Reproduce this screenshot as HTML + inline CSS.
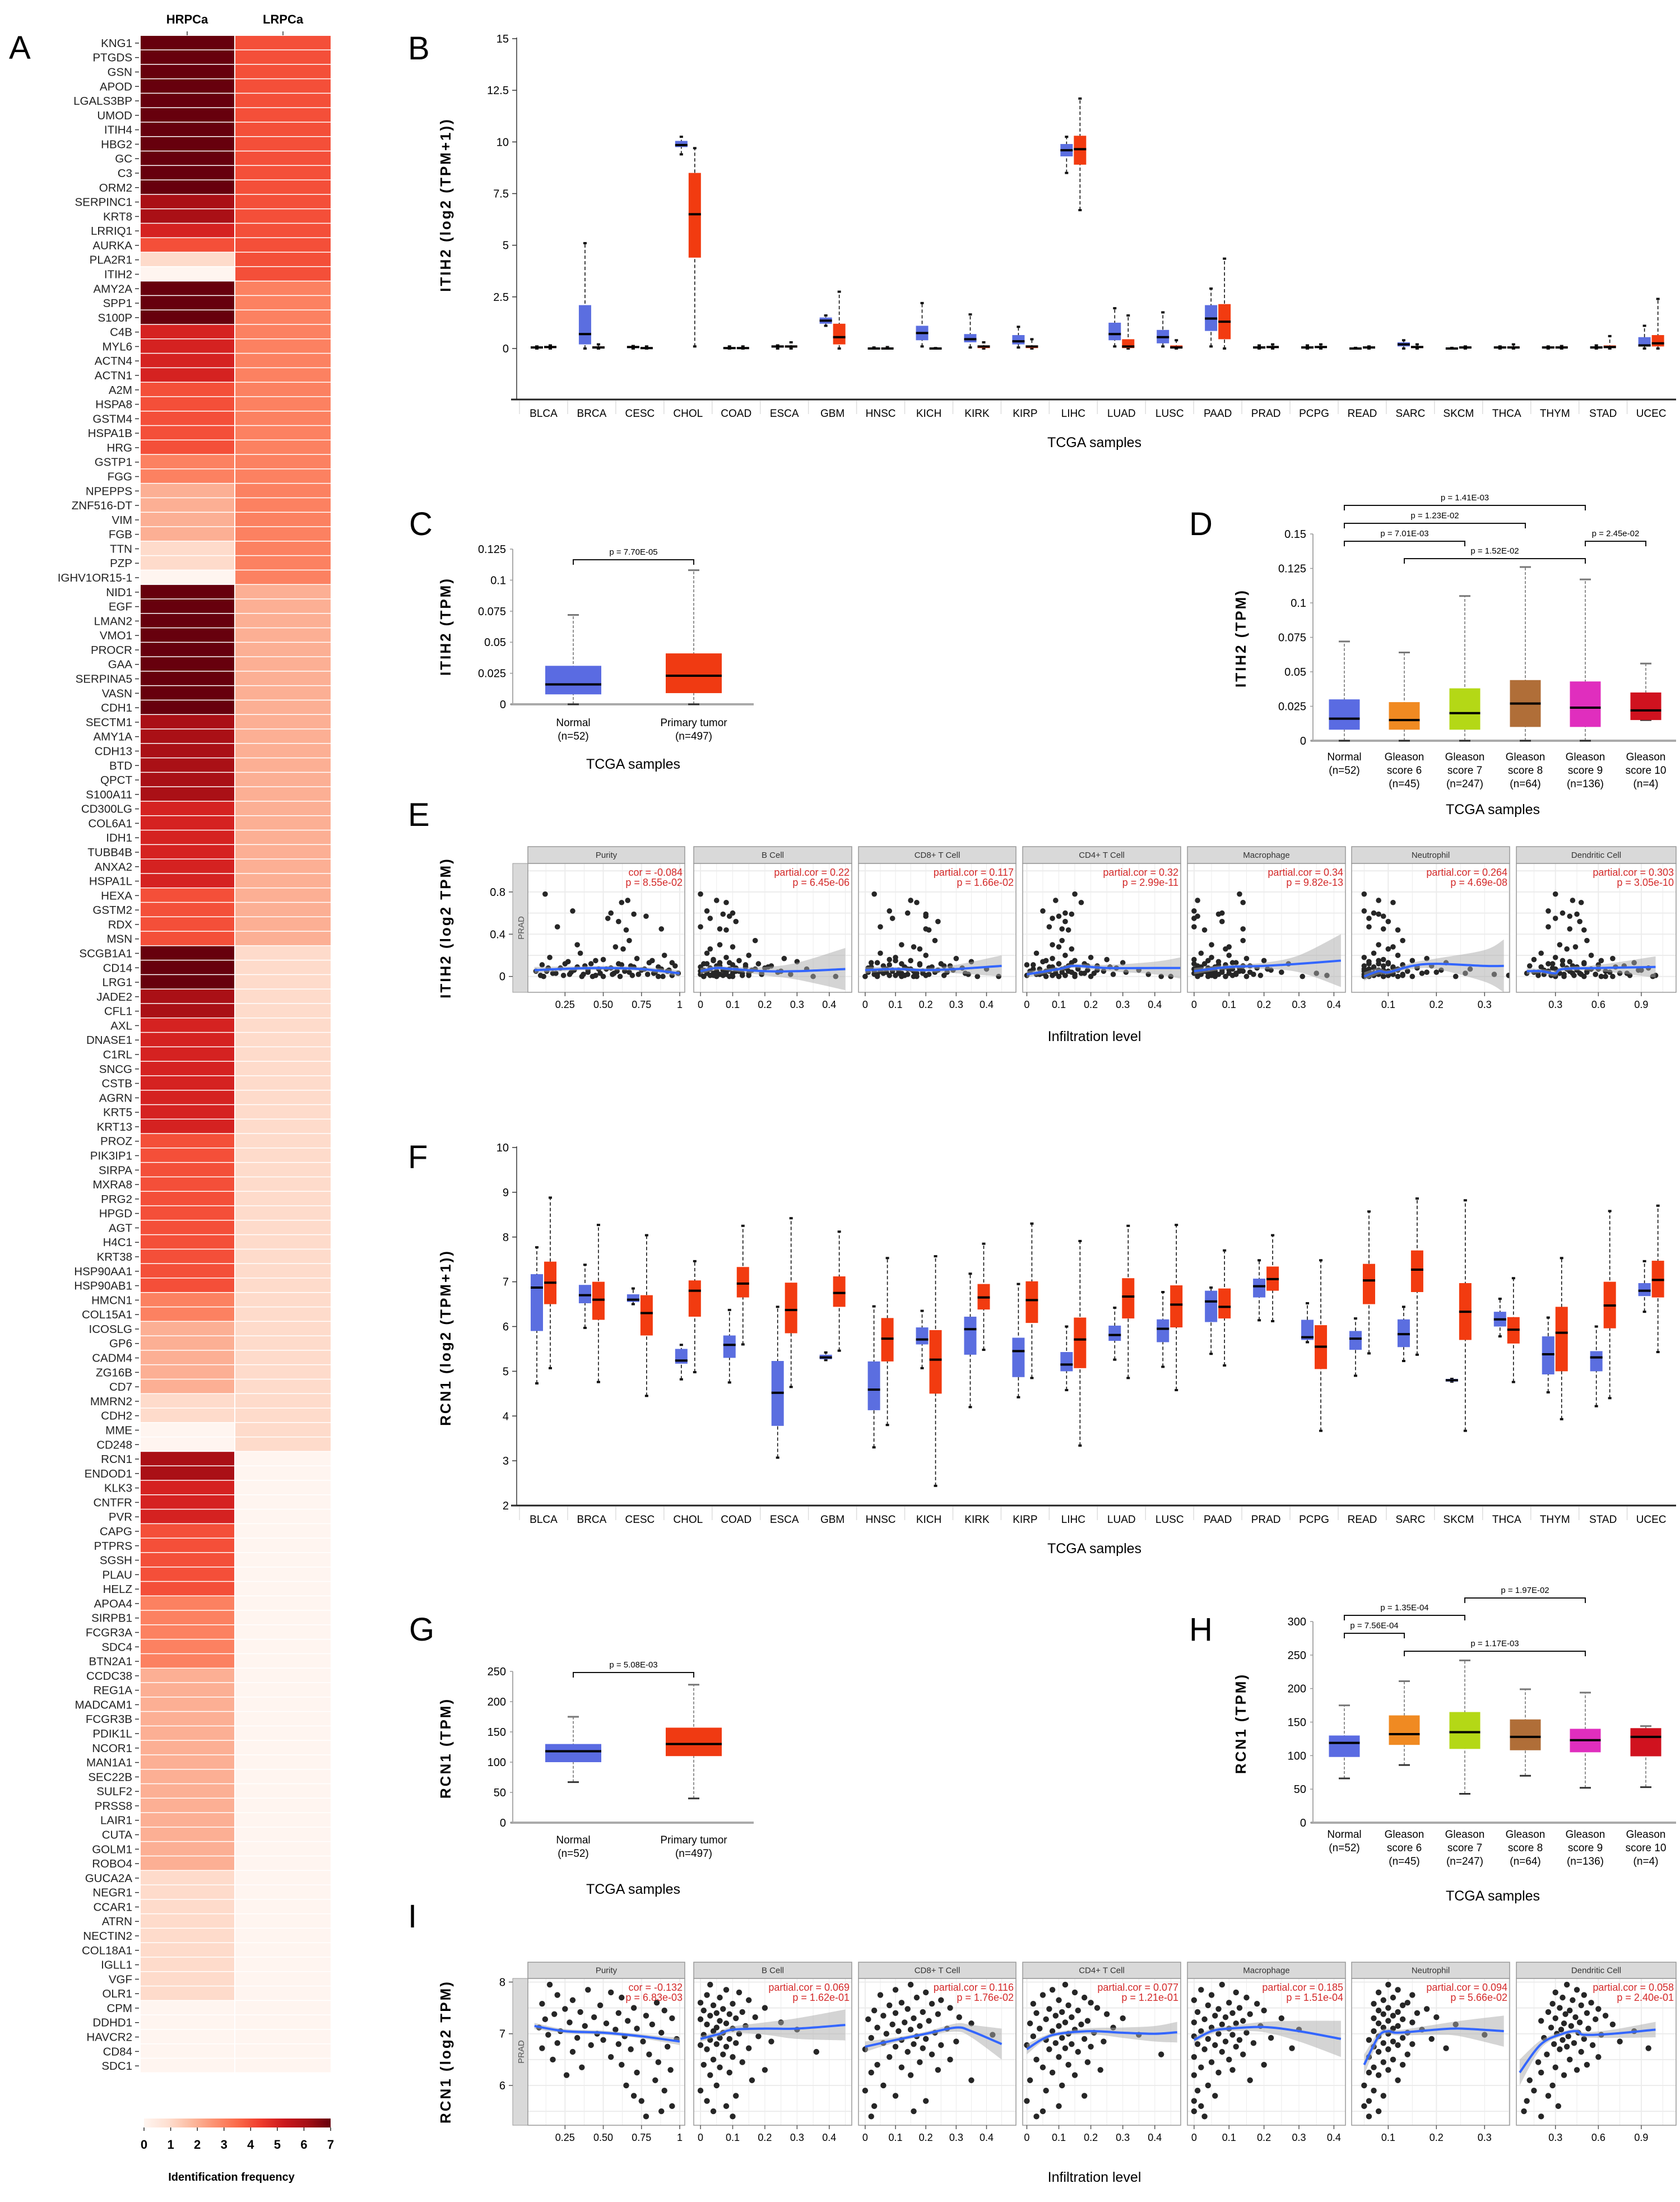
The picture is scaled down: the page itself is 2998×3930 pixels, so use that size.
<!DOCTYPE html>
<html><head><meta charset="utf-8"><title>ITIH2 / RCN1 figure</title>
<style>html,body{margin:0;padding:0;background:#fff}svg{display:block}text{font-family:"Liberation Sans",Arial,sans-serif}</style>
</head><body>
<svg id="fig" xmlns="http://www.w3.org/2000/svg" width="2998" height="3930" viewBox="0 0 2998 3930">
<defs>
<linearGradient id="redsgrad" x1="0" x2="1" y1="0" y2="0">
<stop offset="0" stop-color="#fff5f0"/><stop offset="0.125" stop-color="#fee0d2"/><stop offset="0.25" stop-color="#fcbba1"/><stop offset="0.375" stop-color="#fc9272"/><stop offset="0.5" stop-color="#fb6a4a"/><stop offset="0.625" stop-color="#ef3b2c"/><stop offset="0.75" stop-color="#cb181d"/><stop offset="0.875" stop-color="#a50f15"/><stop offset="1" stop-color="#67000d"/>
</linearGradient>
</defs>
</svg>
<script>
// ---------------- DATA ----------------
const genes = ["KNG1","PTGDS","GSN","APOD","LGALS3BP","UMOD","ITIH4","HBG2","GC","C3","ORM2","SERPINC1","KRT8","LRRIQ1","AURKA","PLA2R1","ITIH2",
"AMY2A","SPP1","S100P","C4B","MYL6","ACTN4","ACTN1","A2M","HSPA8","GSTM4","HSPA1B","HRG","GSTP1","FGG","NPEPPS","ZNF516-DT","VIM","FGB","TTN","PZP","IGHV1OR15-1",
"NID1","EGF","LMAN2","VMO1","PROCR","GAA","SERPINA5","VASN","CDH1","SECTM1","AMY1A","CDH13","BTD","QPCT","S100A11","CD300LG","COL6A1","IDH1","TUBB4B","ANXA2","HSPA1L","HEXA","GSTM2","RDX","MSN",
"SCGB1A1","CD14","LRG1","JADE2","CFL1","AXL","DNASE1","C1RL","SNCG","CSTB","AGRN","KRT5","KRT13","PROZ","PIK3IP1","SIRPA","MXRA8","PRG2","HPGD","AGT","H4C1","KRT38","HSP90AA1","HSP90AB1","HMCN1","COL15A1","ICOSLG","GP6","CADM4","ZG16B","CD7","MMRN2","CDH2","MME","CD248",
"RCN1","ENDOD1","KLK3","CNTFR","PVR","CAPG","PTPRS","SGSH","PLAU","HELZ","APOA4","SIRPB1","FCGR3A","SDC4","BTN2A1","CCDC38","REG1A","MADCAM1","FCGR3B","PDIK1L","NCOR1","MAN1A1","SEC22B","SULF2","PRSS8","LAIR1","CUTA","GOLM1","ROBO4","GUCA2A","NEGR1","CCAR1","ATRN","NECTIN2","COL18A1","IGLL1","VGF","OLR1","CPM","DDHD1","HAVCR2","CD84","SDC1"];
const hrFreq = [7,7,7,7,7,7,7,7,7,7,7,6,6,5,4,1,0,
7,7,7,5,5,5,5,4,4,4,4,4,3,3,2,2,2,2,1,1,0,
7,7,7,7,7,7,7,7,7,6,6,6,6,6,6,5,5,5,5,5,5,4,4,4,4,
7,7,7,6,6,5,5,5,5,5,5,5,5,4,4,4,4,4,4,4,4,4,4,4,3,3,2,2,2,2,2,1,1,0,0,
6,6,5,5,5,4,4,4,4,4,3,3,3,3,3,2,2,2,2,2,2,2,2,2,2,2,2,2,2,1,1,1,1,1,1,1,1,1,0,0,0,0,0];
const lrFreq = [4,4,4,4,4,4,4,4,4,4,4,4,4,4,4,4,4,
3,3,3,3,3,3,3,3,3,3,3,3,3,3,3,3,3,3,3,3,3,
2,2,2,2,2,2,2,2,2,2,2,2,2,2,2,2,2,2,2,2,2,2,2,2,2,
1,1,1,1,1,1,1,1,1,1,1,1,1,1,1,1,1,1,1,1,1,1,1,1,1,1,1,1,1,1,1,1,1,1,1,
0,0,0,0,0,0,0,0,0,0,0,0,0,0,0,0,0,0,0,0,0,0,0,0,0,0,0,0,0,0,0,0,0,0,0,0,0,0,0,0,0,0,0];
const freqTicks = [0,1,2,3,4,5,6,7];

const tcgaCats = ["BLCA","BRCA","CESC","CHOL","COAD","ESCA","GBM","HNSC","KICH","KIRK","KIRP","LIHC","LUAD","LUSC","PAAD","PRAD","PCPG","READ","SARC","SKCM","THCA","THYM","STAD","UCEC"];
// [q1, median, q3, whiskerMin, whiskerMax]
const itih2Normal = [[.02,.05,.08,0,.1],[.2,.7,2.1,0,5.1],[.02,.07,.1,0,.12],[9.75,9.85,10.05,9.4,10.25],[0,.02,.05,0,.1],[.05,.1,.15,0,.15],[1.2,1.35,1.5,1.1,1.6],[0,0,.02,0,.05],[.4,.75,1.1,.1,2.2],[.3,.45,.7,.05,1.65],[.2,.35,.65,.05,1.05],[9.3,9.6,9.9,8.5,10.25],[.4,.7,1.25,.1,1.95],[.25,.55,.9,.1,1.75],[.85,1.45,2.1,.1,2.9],[.02,.05,.1,0,.15],[.02,.05,.1,0,.15],[0,0,.02,0,.03],[.1,.2,.3,0,.4],[0,0,.02,0,.03],[.02,.05,.08,0,.1],[.02,.05,.08,0,.1],[.02,.05,.1,0,.15],[.1,.15,.55,0,1.1]];
const itih2Tumor = [[.02,.07,.1,0,.15],[.02,.05,.1,0,.2],[0,.02,.05,0,.1],[4.4,6.5,8.5,.1,9.7],[0,.02,.05,0,.1],[.05,.1,.15,0,.3],[.2,.55,1.2,0,2.75],[0,0,.05,0,.07],[0,0,.01,0,.02],[.02,.1,.15,0,.3],[.02,.1,.15,0,.45],[8.9,9.65,10.3,6.7,12.1],[.02,.1,.45,0,1.6],[.02,.05,.15,0,.4],[.45,1.3,2.15,0,4.35],[.02,.07,.12,0,.2],[.03,.07,.12,0,.2],[.02,.05,.08,0,.1],[.02,.07,.12,0,.2],[.02,.05,.08,0,.1],[.02,.05,.1,0,.2],[.02,.05,.1,0,.12],[.02,.07,.15,0,.6],[.1,.25,.65,0,2.4]];
const itih2Ticks = [0,2.5,5,7.5,10,12.5,15];
const rcn1Normal = [[5.9,6.87,7.17,4.73,7.77],[6.52,6.7,6.93,5.97,7.38],[6.55,6.6,6.72,6.5,6.85],[5.17,5.24,5.5,4.82,5.59],[5.3,5.59,5.8,4.75,6.37],[3.78,4.52,5.23,3.07,6.44],[5.27,5.31,5.37,5.25,5.42],[4.13,4.59,5.22,3.3,6.45],[5.6,5.71,5.98,5.07,6.35],[5.37,5.94,6.22,4.2,7.18],[4.87,5.45,5.75,4.42,6.95],[5.0,5.15,5.43,4.58,6.0],[5.68,5.81,6.02,5.26,6.42],[5.65,5.95,6.16,5.1,6.77],[6.1,6.56,6.8,5.39,6.87],[6.65,6.9,7.07,6.14,7.48],[5.7,5.76,6.15,5.65,6.52],[5.48,5.73,5.9,4.9,6.18],[5.54,5.83,6.16,5.23,6.44],[4.77,4.8,4.83,4.77,4.83],[6.0,6.16,6.33,5.78,6.62],[4.93,5.38,5.78,4.53,6.2],[5.0,5.31,5.45,4.22,6.0],[6.68,6.8,6.97,6.33,7.46]];
const rcn1Tumor = [[6.5,6.98,7.45,5.07,8.88],[6.15,6.6,7.0,4.76,8.27],[5.8,6.3,6.7,4.45,8.04],[6.22,6.8,7.03,4.98,7.46],[6.65,6.96,7.33,5.6,8.25],[5.85,6.37,6.98,4.65,8.42],[6.44,6.75,7.12,5.46,8.12],[5.22,5.73,6.19,3.8,7.53],[4.5,5.26,5.92,2.44,7.57],[6.38,6.65,6.95,5.48,7.85],[6.08,6.59,7.01,4.85,8.3],[5.07,5.71,6.2,3.34,7.91],[6.18,6.67,7.08,4.85,8.25],[5.98,6.49,6.92,4.58,8.27],[6.18,6.44,6.85,5.13,7.7],[6.8,7.06,7.34,6.12,8.04],[5.05,5.55,6.03,3.67,7.48],[6.5,7.03,7.4,5.4,8.57],[6.77,7.27,7.7,5.37,8.86],[5.7,6.33,6.97,3.67,8.82],[5.62,5.93,6.21,4.76,7.08],[5.0,5.86,6.44,3.93,7.53],[5.96,6.47,7.0,4.4,8.58],[6.65,7.04,7.47,5.43,8.7]];
const rcn1Ticks = [2,3,4,5,6,7,8,9,10];

const twoGroups = [["Normal","(n=52)"],["Primary tumor","(n=497)"]];
const gleasonGroups = [["Normal","(n=52)",""],["Gleason","score 6","(n=45)"],["Gleason","score 7","(n=247)"],["Gleason","score 8","(n=64)"],["Gleason","score 9","(n=136)"],["Gleason","score 10","(n=4)"]];
const itih2TwoStats = [[.008,.016,.031,0,.072],[.009,.023,.041,0,.108]];
const itih2TwoTicks = [0,0.025,0.05,0.075,0.1,0.125];
const itih2GleasonStats = [[.008,.016,.030,0,.072],[.008,.015,.028,0,.064],[.008,.020,.038,0,.105],[.010,.027,.044,0,.126],[.010,.024,.043,0,.117],[.015,.022,.035,.015,.056]];
const itih2GleasonTicks = [0,0.025,0.05,0.075,0.1,0.125,0.15];
const rcn1TwoStats = [[100,118,130,67,175],[110,130,157,40,228]];
const rcn1TwoTicks = [0,50,100,150,200,250];
const rcn1GleasonStats = [[98,119,130,66,175],[116,132,160,86,211],[110,135,165,43,242],[108,128,154,70,199],[105,123,140,52,194],[99,128,141,53,144]];
const rcn1GleasonTicks = [0,50,100,150,200,250,300];

const facetNames = ["Purity","B Cell","CD8+ T Cell","CD4+ T Cell","Macrophage","Neutrophil","Dendritic Cell"];
const facetTickVals = [[0.25,0.5,0.75,1],[0,0.1,0.2,0.3,0.4],[0,0.1,0.2,0.3,0.4],[0,0.1,0.2,0.3,0.4],[0,0.1,0.2,0.3,0.4],[0.1,0.2,0.3],[0.3,0.6,0.9]];
const facetTickLabels = [["0.25","0.50","0.75","1"],["0","0.1","0.2","0.3","0.4"],["0","0.1","0.2","0.3","0.4"],["0","0.1","0.2","0.3","0.4"],["0","0.1","0.2","0.3","0.4"],["0.1","0.2","0.3"],["0.3","0.6","0.9"]];

const itih2CorLabel = ["cor = -0.084","partial.cor = 0.22","partial.cor = 0.117","partial.cor = 0.32","partial.cor = 0.34","partial.cor = 0.264","partial.cor = 0.303"];
const itih2CorP = ["p = 8.55e-02","p = 6.45e-06","p = 1.66e-02","p = 2.99e-11","p = 9.82e-13","p = 4.69e-08","p = 3.05e-10"];
const itih2Expr = [0.78,0.72,0.70,0.62,0.60,0.59,0.57,0.55,0.52,0.47,0.45,0.44,0.34,0.30,0.28,0.26,
0.22,0.2,0.18,0.17,0.16,0.15,0.14,0.13,0.12,0.12,0.11,0.1,0.1,0.09,0.08,0.08,0.07,0.07,0.06,0.06,0.05,0.05,0.04,0.04,0.03,0.03,0.03,0.02,0.02,0.01,0.01,0.0,0.0,0.0,
0.15,0.13,0.12,0.11,0.1,0.09,0.09,0.08,0.07,0.07,0.06,0.06,0.05,0.05,0.05,0.04,0.04,0.03,0.03,0.03,0.02,0.02,0.02,0.01,0.01,0.01,0.0,0.0,0.0,0.0];
const itih2Infil = [
[0.12,0.66,0.62,0.3,0.55,0.7,0.78,0.53,0.6,0.2,0.88,0.65,0.67,0.33,0.58,0.63,0.35,0.9,0.15,0.72,0.5,0.82,0.27,0.95,0.42,0.6,0.1,0.68,0.38,0.86,0.22,0.55,0.77,0.47,0.31,0.93,0.13,0.64,0.4,0.84,0.19,0.57,0.99,0.28,0.73,0.45,0.09,0.61,0.36,0.89,
 0.45,0.8,0.25,0.62,0.97,0.33,0.7,0.14,0.52,0.88,0.4,0.75,0.06,0.59,0.92,0.29,0.67,0.48,0.83,0.17,0.56,0.79,0.37,0.95,0.24,0.69,0.5,0.11,0.86,0.43],
[0,0.05,0.08,0.02,0.1,0.07,0.09,0.03,0.11,0,0.06,0.08,0.17,0.06,0.1,0.03,0.02,0.15,0.08,0.26,0.04,0.12,0.3,0.06,0.18,0.01,0.1,0.22,0.05,0.14,0.03,0.2,0.09,0.33,0.07,0.16,0.0,0.11,0.24,0.05,0.13,0.02,0.19,0.08,0.28,0.04,0.15,0.01,0.42,0.1,
 0.04,0.09,0.02,0.14,0.06,0.21,0.0,0.11,0.03,0.17,0.07,0.01,0.12,0.05,0.25,0.08,0.02,0.15,0.04,0.1,0.0,0.19,0.06,0.03,0.13,0.07,0.01,0.09,0.35,0.05],
[0.03,0.15,0.17,0.08,0.14,0.2,0.2,0.09,0.24,0.05,0.2,0.21,0.23,0.12,0.16,0.18,0.05,0.2,0.1,0.3,0.08,0.15,0.35,0.02,0.25,0.12,0.18,0.28,0.06,0.22,0.01,0.32,0.14,0.4,0.09,0.24,0.03,0.16,0.27,0.07,0.19,0.11,0.33,0.04,0.21,0.13,0.26,0.0,0.37,0.17,
 0.1,0.04,0.18,0.08,0.26,0.13,0.02,0.21,0.07,0.15,0.11,0.29,0.05,0.19,0.09,0.01,0.23,0.12,0.06,0.17,0.34,0.03,0.14,0.08,0.2,0.1,0.44,0.04,0.16,0.12],
[0.15,0.09,0.17,0.05,0.12,0.14,0.1,0.08,0.12,0.07,0.11,0.13,0.11,0.08,0.1,0.14,0.03,0.12,0.2,0.08,0.25,0.15,0.05,0.3,0.1,0.18,0.0,0.22,0.13,0.07,0.28,0.16,0.02,0.11,0.35,0.19,0.06,0.24,0.14,0.01,0.09,0.21,0.17,0.04,0.27,0.12,0.08,0.42,0.15,0.1,
 0.06,0.14,0.1,0.02,0.19,0.08,0.26,0.12,0.04,0.16,0.09,0.22,0.01,0.13,0.07,0.31,0.11,0.05,0.18,0.09,0.03,0.15,0.38,0.08,0.12,0.0,0.2,0.1,0.06,0.45],
[0.13,0.01,0.14,0.0,0.08,0.07,0.01,0.0,0.08,0.0,0.14,0.03,0.14,0.05,0.1,0.09,0.02,0.1,0.05,0.15,0.0,0.2,0.07,0.12,0.03,0.27,0.09,0.01,0.14,0.06,0.18,0.04,0.11,0.0,0.08,0.22,0.03,0.13,0.05,0.16,0.02,0.1,0.35,0.06,0.12,0.01,0.19,0.04,0.09,0.31,
 0.04,0.11,0.0,0.07,0.16,0.02,0.09,0.13,0.05,0.21,0.01,0.1,0.06,0.14,0.03,0.08,0.25,0.0,0.12,0.04,0.17,0.07,0.02,0.11,0.38,0.05,0.09,0.01,0.15,0.06],
[0.05,0.08,0.11,0.05,0.07,0.08,0.09,0.06,0.1,0.06,0.09,0.12,0.13,0.08,0.11,0.1,0.07,0.12,0.05,0.18,0.09,0.15,0.06,0.22,0.1,0.08,0.13,0.05,0.19,0.11,0.07,0.16,0.06,0.27,0.09,0.12,0.05,0.14,0.08,0.2,0.1,0.06,0.17,0.11,0.32,0.07,0.13,0.05,0.24,0.09,
 0.08,0.1,0.06,0.13,0.09,0.07,0.16,0.11,0.05,0.12,0.21,0.08,0.1,0.06,0.14,0.09,0.18,0.07,0.11,0.26,0.08,0.05,0.13,0.1,0.35,0.07,0.09,0.15,0.06,0.12],
[0.3,0.42,0.48,0.25,0.35,0.45,0.4,0.3,0.47,0.25,0.4,0.5,0.52,0.33,0.44,0.38,0.2,0.55,0.3,0.7,0.15,0.62,0.4,0.85,0.25,0.5,0.35,0.78,0.12,0.45,0.95,0.28,0.6,0.38,0.9,0.22,0.52,0.32,0.68,0.18,0.42,0.75,0.1,0.48,0.58,0.27,0.82,0.36,0.65,0.98,
 0.35,0.5,0.28,0.6,0.42,0.2,0.72,0.38,0.55,0.3,0.88,0.45,0.25,0.65,0.4,0.15,0.52,0.33,0.8,0.47,0.22,0.58,0.36,1.0,0.43,0.18,0.62,0.3,0.7,0.5]];
const itih2FitX = [[0.05,0.3,0.5,0.75,1.0],[0,0.05,0.1,0.2,0.3,0.45],[0,0.1,0.2,0.3,0.45],[0,0.1,0.15,0.25,0.4,0.48],[0,0.1,0.2,0.3,0.42],[0.05,0.08,0.1,0.15,0.2,0.3,0.34],[0.1,0.2,0.3,0.35,0.6,1.0]];
const itih2FitY = [[0.06,0.075,0.08,0.07,0.03],[0.05,0.08,0.07,0.05,0.05,0.07],[0.06,0.07,0.06,0.07,0.1],[0.02,0.07,0.1,0.08,0.08,0.08],[0.05,0.09,0.1,0.12,0.15],[0.0,0.05,0.04,0.1,0.12,0.1,0.1],[0.05,0.05,0.03,0.07,0.08,0.09]];
const itih2FitSE = [[0.03,0.02,0.02,0.02,0.03],[0.03,0.02,0.02,0.04,0.08,0.2],[0.03,0.02,0.02,0.04,0.1],[0.03,0.02,0.02,0.03,0.06,0.1],[0.03,0.02,0.03,0.08,0.25],[0.04,0.03,0.02,0.03,0.05,0.15,0.25],[0.03,0.02,0.03,0.02,0.03,0.1]];

const rcn1CorLabel = ["cor = -0.132","partial.cor = 0.069","partial.cor = 0.116","partial.cor = 0.077","partial.cor = 0.185","partial.cor = 0.094","partial.cor = 0.058"];
const rcn1CorP = ["p = 6.83e-03","p = 1.62e-01","p = 1.76e-02","p = 1.21e-01","p = 1.51e-04","p = 5.66e-02","p = 2.40e-01"];
const rcn1Expr = [7.95,7.85,7.8,7.75,7.7,7.65,7.6,7.58,7.55,7.5,7.48,7.45,7.42,7.4,7.38,7.35,7.32,7.3,7.28,7.25,7.22,7.2,7.18,7.15,7.12,7.1,7.08,7.05,7.02,7.0,6.98,6.95,6.92,6.9,6.88,6.85,6.82,6.8,6.78,6.75,6.72,6.7,6.65,6.6,6.55,6.5,6.45,6.4,6.35,6.3,6.25,6.2,6.1,6.0,5.9,5.8,5.7,5.6,5.5,5.4];
const rcn1Infil = [
[0.15,0.4,0.55,0.2,0.62,0.3,0.85,0.1,0.48,0.7,0.25,0.9,0.35,0.6,0.18,0.78,0.44,0.95,0.12,0.66,0.28,0.52,0.82,0.38,0.08,0.72,0.58,0.22,0.88,0.46,0.14,0.64,0.33,0.98,0.5,0.76,0.2,0.6,0.42,0.92,0.1,0.68,0.3,0.8,0.55,0.17,0.86,0.62,0.36,0.94,0.72,0.26,0.84,0.65,0.9,0.7,0.75,0.95,0.88,0.78],
[0.03,0.08,0.12,0.02,0.06,0.15,0.0,0.1,0.04,0.2,0.07,0.01,0.13,0.05,0.09,0.03,0.17,0.11,0.0,0.06,0.25,0.08,0.02,0.14,0.05,0.1,0.3,0.04,0.07,0.12,0.01,0.18,0.06,0.09,0.03,0.22,0.11,0.05,0.0,0.08,0.15,0.02,0.36,0.07,0.1,0.04,0.13,0.01,0.06,0.2,0.09,0.03,0.16,0.05,0.0,0.11,0.02,0.08,0.04,0.1],
[0.15,0.1,0.2,0.05,0.17,0.25,0.12,0.22,0.08,0.28,0.14,0.03,0.19,0.1,0.24,0.06,0.31,0.16,0.01,0.21,0.13,0.35,0.09,0.18,0.04,0.27,0.15,0.11,0.23,0.07,0.42,0.17,0.02,0.2,0.12,0.3,0.06,0.16,0.25,0.1,0.19,0.0,0.14,0.22,0.08,0.28,0.18,0.04,0.12,0.24,0.02,0.15,0.35,0.06,0.0,0.1,0.2,0.03,0.16,0.02],
[0.12,0.08,0.15,0.05,0.18,0.1,0.2,0.02,0.13,0.22,0.07,0.16,0.11,0.03,0.25,0.09,0.14,0.3,0.06,0.19,0.12,0.01,0.17,0.1,0.27,0.04,0.15,0.08,0.21,0.13,0.35,0.02,0.11,0.18,0.06,0.24,0.09,0.14,0.0,0.2,0.12,0.07,0.16,0.42,0.1,0.03,0.19,0.13,0.05,0.23,0.08,0.15,0.01,0.11,0.06,0.18,0.0,0.1,0.05,0.03],
[0.08,0.02,0.12,0.05,0.15,0.0,0.1,0.18,0.04,0.13,0.07,0.2,0.01,0.11,0.16,0.06,0.09,0.25,0.03,0.14,0.0,0.12,0.08,0.19,0.05,0.1,0.3,0.02,0.15,0.07,0.11,0.0,0.22,0.04,0.13,0.09,0.17,0.01,0.06,0.12,0.28,0.03,0.08,0.14,0.0,0.1,0.05,0.2,0.02,0.11,0.07,0.0,0.16,0.04,0.01,0.06,0.0,0.02,0.0,0.03],
[0.1,0.12,0.08,0.15,0.11,0.09,0.14,0.07,0.13,0.1,0.18,0.08,0.12,0.16,0.09,0.11,0.2,0.07,0.13,0.1,0.15,0.08,0.24,0.12,0.09,0.11,0.17,0.07,0.14,0.1,0.3,0.08,0.13,0.19,0.06,0.11,0.09,0.15,0.12,0.07,0.22,0.1,0.08,0.14,0.06,0.11,0.09,0.13,0.07,0.1,0.06,0.08,0.12,0.05,0.07,0.09,0.06,0.05,0.08,0.06],
[0.38,0.45,0.3,0.5,0.35,0.42,0.55,0.28,0.48,0.33,0.6,0.4,0.25,0.52,0.37,0.65,0.44,0.3,0.58,0.2,0.47,0.36,0.7,0.41,0.27,0.53,0.34,0.85,0.46,0.31,0.62,0.39,0.22,0.5,0.35,0.75,0.43,0.29,0.56,0.38,0.95,0.33,0.48,0.24,0.6,0.4,0.18,0.52,0.3,0.45,0.2,0.36,0.12,0.28,0.15,0.25,0.1,0.32,0.08,0.2]];
const rcn1FitX = [[0.05,0.25,0.5,0.75,1.0],[0,0.03,0.06,0.1,0.2,0.3,0.45],[0,0.1,0.2,0.3,0.35,0.45],[0,0.05,0.1,0.2,0.3,0.4,0.47],[0,0.05,0.1,0.2,0.3,0.42],[0.05,0.08,0.1,0.12,0.2,0.25,0.34],[0.05,0.2,0.35,0.45,0.5,0.7,1.0]];
const rcn1FitY = [[7.15,7.05,7.02,6.95,6.85],[6.9,6.95,7.0,7.08,7.1,7.1,7.17],[6.75,6.88,7.0,7.12,7.05,6.8],[6.7,6.9,7.0,7.05,7.02,7.0,7.03],[6.88,7.05,7.1,7.13,7.05,6.9],[6.4,6.95,7.05,7.02,7.08,7.1,7.05],[6.25,6.8,7.0,7.05,6.98,7.0,7.08]];
const rcn1FitSE = [[0.06,0.04,0.04,0.04,0.07],[0.06,0.05,0.05,0.06,0.12,0.2,0.3],[0.1,0.05,0.04,0.08,0.12,0.3],[0.1,0.05,0.04,0.06,0.1,0.15,0.2],[0.06,0.05,0.05,0.1,0.2,0.35],[0.2,0.08,0.05,0.05,0.1,0.15,0.3],[0.25,0.08,0.04,0.05,0.05,0.08,0.15]];

// ---------------- HELPERS ----------------
const NS='http://www.w3.org/2000/svg';
const svg=document.getElementById('fig');
function mk(tag,parent,attrs){const e=document.createElementNS(NS,tag);for(const k in attrs)e.setAttribute(k,attrs[k]);(parent||svg).appendChild(e);return e;}
function tx(parent,x,y,s,attrs){const t=mk('text',parent,Object.assign({x:x,y:y},attrs||{}));t.textContent=s;return t;}
function grp(name){const g=mk('g',svg,{});


return g;}
const redsStops=["#fff5f0","#fee0d2","#fcbba1","#fc9272","#fb6a4a","#ef3b2c","#cb181d","#a50f15","#67000d"];
function hex2rgb(h){return [1,3,5].map(i=>parseInt(h.substr(i,2),16));}
function reds(v){const t=Math.max(0,Math.min(1,v/7))*8;const i=Math.min(7,Math.floor(t));const f=t-i;const a=hex2rgb(redsStops[i]),b=hex2rgb(redsStops[i+1]);return 'rgb('+a.map((c,k)=>Math.round(c+(b[k]-c)*f)).join(',')+')';}
function letter(ch,x,y){const t=tx(svg,x,y,ch,{'font-size':58,fill:'#000'});

}
function ylabel(parent,s,x,y,size){const t=tx(parent,x,y,s,{'font-size':size||26,'font-weight':'bold','text-anchor':'middle','letter-spacing':3,transform:'rotate(-90 '+x+' '+y+')'});

}
function xlabel(parent,s,x,y){const t=tx(parent,x,y,s,{'font-size':25,'text-anchor':'middle'});

}

// ---------------- PANEL A: HEATMAP ----------------
(function(){
const g=grp('heatmap-panel');
const top=64,rh=(3700-64)/genes.length,x0=251,xm=419,x1=590;
tx(g,334,42,'HRPCa',{'font-size':22,'text-anchor':'middle','font-weight':'bold'});
tx(g,505,42,'LRPCa',{'font-size':22,'text-anchor':'middle','font-weight':'bold'});
mk('line',g,{x1:334,x2:334,y1:56,y2:63,stroke:'#333','stroke-width':1.5});
mk('line',g,{x1:505,x2:505,y1:56,y2:63,stroke:'#333','stroke-width':1.5});
genes.forEach((gn,i)=>{
 const y=top+i*rh;
 const c1=mk('rect',g,{x:x0,y:y,width:xm-x0-1,height:rh-1.5,fill:reds(hrFreq[i])});
 
 
 const c2=mk('rect',g,{x:xm+1,y:y,width:x1-xm-1,height:rh-1.5,fill:reds(lrFreq[i])});
 
 
 const t=tx(g,236,y+rh/2+7,gn,{'font-size':20.5,'text-anchor':'end',fill:'#222','font-family':'"DejaVu Sans",sans-serif'});
 
 
 mk('line',g,{x1:241,x2:248,y1:y+rh/2,y2:y+rh/2,stroke:'#333','stroke-width':1.5});
});
const cb=mk('rect',g,{x:257,y:3781,width:333,height:16,fill:'url(#redsgrad)'});


freqTicks.forEach(v=>{const x=257+v/7*333;
 mk('line',g,{x1:x,x2:x,y1:3797,y2:3803,stroke:'#222','stroke-width':1.5});
 const t=tx(g,x,3835,String(v),{'font-size':22,'font-weight':'bold','text-anchor':'middle'});
 
 });
const ct=tx(g,413,3892,'Identification frequency',{'font-size':20,'font-weight':'bold','text-anchor':'middle'});


})();
letter('A',16,105);

// ---------------- PANELS B & F: pan-cancer boxplots ----------------
function panCancer(name,normals,tumors,ticks,vmin,vmax,yTop,yBase,yBottom,ylab){
 const g=grp(name);
 const ys=v=>yBase-(v-vmin)/(vmax-vmin)*(yBase-yTop);
 const cx=i=>970+i*85.94;
 mk('line',g,{x1:922,x2:922,y1:yTop-2,y2:yBottom,stroke:'#333','stroke-width':1.5});
 mk('line',g,{x1:912,x2:2991,y1:yBottom,y2:yBottom,stroke:'#222','stroke-width':3});
 ticks.forEach(v=>{const y=ys(v);mk('line',g,{x1:914,x2:922,y1:y,y2:y,stroke:'#333','stroke-width':1.5});
  const t=tx(g,908,y+7,String(v),{'font-size':20,'text-anchor':'end'});
  
  });
 tcgaCats.forEach((c,i)=>{
  mk('line',g,{x1:cx(i)-43,x2:cx(i)-43,y1:yBottom+2,y2:yBottom+26,stroke:'#ddd','stroke-width':1.5});
  const t=tx(g,cx(i),yBottom+31,c,{'font-size':19,'text-anchor':'middle'});
  
  
  [[normals[i],-12,'#5b6ee0','normal'],[tumors[i],12,'#f23b10','tumor']].forEach(([s,off,col,kind])=>{
   const x=cx(i)+off,w=22;
   mk('line',g,{x1:x,x2:x,y1:ys(s[3]),y2:ys(s[4]),stroke:'#111','stroke-width':1.6,'stroke-dasharray':'6,4'});
   mk('rect',g,{x:x-3,y:ys(s[4])-2,width:6,height:4,fill:'#111'});
   mk('rect',g,{x:x-3,y:ys(s[3])-2,width:6,height:4,fill:'#111'});
   const b=mk('rect',g,{x:x-w/2,y:ys(s[2]),width:w,height:Math.max(2,ys(s[0])-ys(s[2])),fill:col});
   
   
   mk('line',g,{x1:x-w/2,x2:x+w/2,y1:ys(s[1]),y2:ys(s[1]),stroke:'#000','stroke-width':4});
  });
 });
 ylabel(g,ylab,804,(yTop+yBase)/2+20);
 xlabel(g,'TCGA samples',1953,yBottom+85);
}
panCancer('panel-b-itih2-pancancer',itih2Normal,itih2Tumor,itih2Ticks,0,15,69,622,713,'ITIH2 (log2 (TPM+1))');
letter('B',728,106);
panCancer('panel-f-rcn1-pancancer',rcn1Normal,rcn1Tumor,rcn1Ticks,2,10,2048,2687,2687,'RCN1 (log2 (TPM+1))');
letter('F',728,2085);

// ---------------- PANELS C, D, G, H ----------------
function groupBox(name,stats,groups,colors,ticks,vmax,axX,xEnd,yTop,yBase,centers,boxW,ylab,labY,brackets){
 const g=grp(name);
 const ys=v=>yBase-v/vmax*(yBase-yTop);
 mk('line',g,{x1:axX,x2:axX,y1:yTop,y2:yBase,stroke:'#aaa','stroke-width':2});
 mk('line',g,{x1:axX-4,x2:xEnd,y1:yBase,y2:yBase,stroke:'#aaa','stroke-width':4});
 ticks.forEach(v=>{const y=ys(v);mk('line',g,{x1:axX-5,x2:axX,y1:y,y2:y,stroke:'#999','stroke-width':1.5});
  const t=tx(g,axX-12,y+7,String(v),{'font-size':20,'text-anchor':'end'});
  
  });
 stats.forEach((s,i)=>{const x=centers[i];
  mk('line',g,{x1:x,x2:x,y1:ys(s[3]),y2:ys(s[4]),stroke:'#555','stroke-width':1.3,'stroke-dasharray':'5,3'});
  mk('line',g,{x1:x-10,x2:x+10,y1:ys(s[4]),y2:ys(s[4]),stroke:'#777','stroke-width':3});
  mk('line',g,{x1:x-10,x2:x+10,y1:ys(s[3]),y2:ys(s[3]),stroke:'#333','stroke-width':3});
  const b=mk('rect',g,{x:x-boxW/2,y:ys(s[2]),width:boxW,height:ys(s[0])-ys(s[2]),fill:colors[i]});
  
  
  mk('line',g,{x1:x-boxW/2,x2:x+boxW/2,y1:ys(s[1]),y2:ys(s[1]),stroke:'#000','stroke-width':4});
  groups[i].forEach((ln,k)=>{if(!ln)return;const t=tx(g,x,labY+k*24,ln,{'font-size':19,'text-anchor':'middle'});
   
   });
 });
 brackets.forEach(b=>{
  mk('path',g,{d:'M'+centers[b[0]]+' '+(b[2]+9)+'V'+b[2]+'H'+centers[b[1]]+'V'+(b[2]+9),fill:'none',stroke:'#111','stroke-width':2});
  const t=tx(g,(centers[b[0]]+centers[b[1]])/2,b[2]-9,b[3],{'font-size':15,'text-anchor':'middle'});
  
  
 });
 return g;
}
const cC=[1023,1238], cD=[2399,2506,2614,2722,2829,2937];
const colTwo=['#5a6be2','#f03a12'], colGl=['#5a6be2','#f08a22','#b4d816','#b06e38','#e02ebe','#d0121f'];
let gC=groupBox('panel-c-itih2-prad',itih2TwoStats,twoGroups,colTwo,itih2TwoTicks,0.125,915,1345,980,1257,cC,100,'',1296,[[0,1,999,'p = 7.70E-05']]);
ylabel(gC,'ITIH2 (TPM)',804,1118);xlabel(gC,'TCGA samples',1130,1372);
letter('C',730,955);
let gD=groupBox('panel-d-itih2-gleason',itih2GleasonStats,gleasonGroups,colGl,itih2GleasonTicks,0.15,2343,2991,953,1322,cD,55,'',1357,[[0,4,902,'p = 1.41E-03'],[0,3,934,'p = 1.23E-02'],[0,2,966,'p = 7.01E-03'],[4,5,966,'p = 2.45e-02'],[1,4,997,'p = 1.52E-02']]);
ylabel(gD,'ITIH2 (TPM)',2223,1139);xlabel(gD,'TCGA samples',2664,1453);
letter('D',2122,955);
let gG=groupBox('panel-g-rcn1-prad',rcn1TwoStats,twoGroups,colTwo,rcn1TwoTicks,250,915,1345,2983,3253,cC,100,'',3290,[[0,1,2985,'p = 5.08E-03']]);
ylabel(gG,'RCN1 (TPM)',804,3120);xlabel(gG,'TCGA samples',1130,3380);
letter('G',730,2928);
let gH=groupBox('panel-h-rcn1-gleason',rcn1GleasonStats,gleasonGroups,colGl,rcn1GleasonTicks,300,2343,2991,2894,3253,cD,55,'',3280,[[2,4,2852,'p = 1.97E-02'],[0,2,2883,'p = 1.35E-04'],[0,1,2915,'p = 7.56E-04'],[1,4,2947,'p = 1.17E-03']]);
ylabel(gH,'RCN1 (TPM)',2223,3076);xlabel(gH,'TCGA samples',2664,3392);
letter('H',2122,2928);

// ---------------- PANELS E, I: TIMER facets ----------------
const facetPx=[[942,1222],[1238,1520],[1532,1813],[1825,2107],[2119,2401],[2412,2694],[2706,2991]];
const facetDom=[[0.007,1.033],[-0.021,0.470],[-0.022,0.497],[-0.013,0.481],[-0.019,0.433],[0.024,0.352],[0.027,1.143]];
function smoothPath(pts){let d='M'+pts[0][0]+' '+pts[0][1];for(let i=0;i<pts.length-1;i++){const p0=pts[i-1]||pts[i],p1=pts[i],p2=pts[i+1],p3=pts[i+2]||p2;
 d+=' C'+(p1[0]+(p2[0]-p0[0])/6)+' '+(p1[1]+(p2[1]-p0[1])/6)+' '+(p2[0]-(p3[0]-p1[0])/6)+' '+(p2[1]-(p3[1]-p1[1])/6)+' '+p2[0]+' '+p2[1];}return d;}
function timer(name,expr,infil,fitX,fitY,fitSE,corL,corP,yTicks,yTickLabels,vLo,vHi,stripTop,plotTop,plotBot,ylab,xlabY,dotR){
 const g=grp(name);
 const ys=v=>plotBot-(v-vLo)/(vHi-vLo)*(plotBot-plotTop);
 const pr=mk('rect',g,{x:915,y:plotTop,width:27,height:plotBot-plotTop,fill:'#d9d9d9',stroke:'#999','stroke-width':1});
 
 
 tx(g,935,(plotTop+plotBot)/2,'PRAD',{'font-size':15,fill:'#555','text-anchor':'middle',transform:'rotate(-90 935 '+(plotTop+plotBot)/2+')'});
 yTicks.forEach((v,k)=>{const y=ys(v);mk('line',g,{x1:908,x2:915,y1:y,y2:y,stroke:'#555','stroke-width':1.5});
  const t=tx(g,902,y+7,yTickLabels[k],{'font-size':20,'text-anchor':'end'});
  
  });
 facetNames.forEach((fn,p)=>{
  const [px0,px1]=facetPx[p],[d0,d1]=facetDom[p];
  const xs=v=>px0+(v-d0)/(d1-d0)*(px1-px0);
  const pg=mk('g',g,{});
  
  
  const cid='clip-'+name+p;
  const cp=mk('clipPath',pg,{id:cid});mk('rect',cp,{x:px0,y:plotTop,width:px1-px0,height:plotBot-plotTop});
  mk('rect',pg,{x:px0,y:plotTop,width:px1-px0,height:plotBot-plotTop,fill:'#fff'});
  const tv=facetTickVals[p],step=tv[1]-tv[0];
  for(let v=tv[0]-step*3;v<=tv[tv.length-1]+step*3;v+=step/2){const x=xs(v);if(x<px0||x>px1)continue;
   mk('line',pg,{x1:x,x2:x,y1:plotTop,y2:plotBot,stroke:'#ececec','stroke-width':Math.abs(((v-tv[0])/step)%1)<0.01?2:1});}
  const yst=yTicks[1]-yTicks[0];
  for(let v=yTicks[0]-yst;v<=yTicks[yTicks.length-1]+yst;v+=yst/2){const y=ys(v);if(y<plotTop||y>plotBot)continue;
   mk('line',pg,{x1:px0,x2:px1,y1:y,y2:y,stroke:'#ececec','stroke-width':2});}
  const cg=mk('g',pg,{'clip-path':'url(#'+cid+')'});
  expr.forEach((yv,k)=>{const c=mk('circle',cg,{cx:xs(infil[p][k]),cy:ys(yv),r:dotR,fill:'#262626'});
   
   });
  const up=fitX[p].map((x,k)=>[xs(x),ys(fitY[p][k]+fitSE[p][k])]);
  const lo=fitX[p].map((x,k)=>[xs(x),ys(fitY[p][k]-fitSE[p][k])]).reverse();
  const band=mk('path',cg,{d:smoothPath(up)+' L'+lo[0][0]+' '+lo[0][1]+' '+smoothPath(lo).slice(1).replace(/^[^C]*/,'')+'Z',fill:'#a9a9a9','fill-opacity':0.5});
  
  
  const ln=mk('path',cg,{d:smoothPath(fitX[p].map((x,k)=>[xs(x),ys(fitY[p][k])])),fill:'none',stroke:'#3366ff','stroke-width':4});
  
  
  mk('rect',pg,{x:px0,y:plotTop,width:px1-px0,height:plotBot-plotTop,fill:'none',stroke:'#999','stroke-width':1.5});
  const st=mk('rect',pg,{x:px0,y:stripTop,width:px1-px0,height:plotTop-stripTop,fill:'#d9d9d9',stroke:'#999','stroke-width':1.5});
  
  
  tx(pg,(px0+px1)/2,(stripTop+plotTop)/2+5,fn,{'font-size':15,fill:'#333','text-anchor':'middle'});
  const t1=tx(pg,px1-4,plotTop+22,corL[p],{'font-size':18,fill:'#d42a2a','text-anchor':'end'});
  
  
  const t2=tx(pg,px1-4,plotTop+40,corP[p],{'font-size':18,fill:'#d42a2a','text-anchor':'end'});
  
  
  tv.forEach((v,k)=>{const x=xs(v);mk('line',pg,{x1:x,x2:x,y1:plotBot,y2:plotBot+7,stroke:'#555','stroke-width':1.5});
   const t=tx(pg,x,plotBot+28,facetTickLabels[p][k],{'font-size':18,'text-anchor':'middle'});
   
   });
 });
 ylabel(g,ylab,804,(plotTop+plotBot)/2);
 xlabel(g,'Infiltration level',1953,xlabY);
}
timer('panel-e-itih2-infiltration',itih2Expr,itih2Infil,itih2FitX,itih2FitY,itih2FitSE,itih2CorLabel,itih2CorP,[0,0.4,0.8],['0','0.4','0.8'],-0.15,1.07,1511,1541,1771,'ITIH2 (log2 TPM)',1858,4.8);
letter('E',728,1474);
timer('panel-i-rcn1-infiltration',rcn1Expr,rcn1Infil,rcn1FitX,rcn1FitY,rcn1FitSE,rcn1CorLabel,rcn1CorP,[6,7,8],['6','7','8'],5.23,8.07,3502,3531,3793,'RCN1 (log2 TPM)',3894,5.2);
letter('I',728,3440);
</script>
</body></html>
